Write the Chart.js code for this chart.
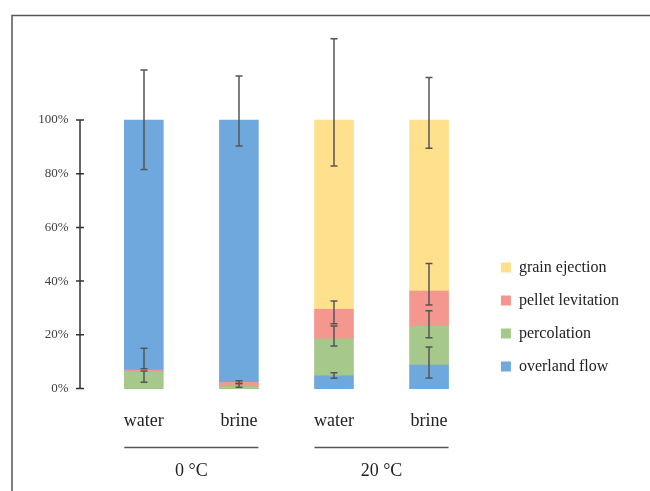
<!DOCTYPE html>
<html>
<head>
<meta charset="utf-8">
<script src="https://cdn.jsdelivr.net/npm/chart.js@4.4.0/dist/chart.umd.min.js"></script>
<style>
  html, body { margin: 0; padding: 0; background: #fff; }
  #wrap { width: 650px; height: 491px; }
</style>
</head>
<body>
<div id="wrap"><canvas id="chart" width="650" height="491"></canvas></div>
<script>
// ---------------------- DATA ------------------------
const categories = ["water", "brine", "water", "brine"];
const groups = ["0 °C", "20 °C"];
const yTicks = [0, 20, 40, 60, 80, 100];

// segment sizes (%), listed bottom to top of each bar
// overland flow sits at the bottom at 20 °C and on top at 0 °C
const overlandLower = [null, null, 4.7, 8.75];
const percolation = [6.15, 0.7, 13.8, 14.45];
const pellet = [0.75, 1.6, 11.0, 13.1];
const grain = [null, null, 70.5, 63.7];
const overlandUpper = [93.1, 97.7, null, null];

// error bar ends (cumulative %)
const overlandLow = [81.6, 90.3, 3.8, 3.9];
const overlandHigh = [118.6, 116.4, 5.9, 15.5];
const percolationLow = [2.3, 0.45, 15.8, 18.9];
const percolationHigh = [6.5, 1.9, 23.3, 29.0];
const pelletLow = [7.4, 1.9, 24.1, 31.1];
const pelletHigh = [15.0, 2.9, 32.6, 46.6];
const grainLow = [null, null, 82.9, 89.5];
const grainHigh = [null, null, 130.2, 115.8];

const errLow = [overlandLow, percolationLow, pelletLow, grainLow];
const errHigh = [overlandHigh, percolationHigh, pelletHigh, grainHigh];

Chart.defaults.font.family = "'Liberation Serif', 'Times New Roman', serif";
Chart.defaults.color = "#222";

const X_MIN = 0.329;
const X_MAX = 4.577;
const BAR_W = 39;
const COLORS = {
  overland: "#6fa8dc",
  percolation: "#a6c98b",
  pellet: "#f4978e",
  grain: "#ffe08c",
};

function toPoints(arr) {
  return arr.map((v, i) => ({ x: i + 1, y: v }));
}

function noPad(s) {
  s.paddingTop = 0;
  s.paddingBottom = 0;
  s.paddingLeft = 0;
  s.paddingRight = 0;
}

// ---------------------- PLUGINS ------------------------
const errorBars = {
  id: "errorBars",
  afterDatasetsDraw(chart) {
    const ctx = chart.ctx;
    const x = chart.scales.x;
    const y = chart.scales.y;
    ctx.save();
    ctx.strokeStyle = "#555";
    ctx.lineWidth = 1.5;
    errLow.forEach((lows, d) => {
      lows.forEach((lo, i) => {
        const hi = errHigh[d][i];
        if (lo == null || hi == null) return;
        const px = Math.round(x.getPixelForValue(i + 1));
        const y1 = y.getPixelForValue(lo);
        const y2 = y.getPixelForValue(hi);
        ctx.beginPath();
        ctx.moveTo(px, y1); ctx.lineTo(px, y2);
        ctx.moveTo(px - 3.5, y1); ctx.lineTo(px + 3.5, y1);
        ctx.moveTo(px - 3.5, y2); ctx.lineTo(px + 3.5, y2);
        ctx.stroke();
      });
    });
    ctx.restore();
  },
};

const decorations = {
  id: "decorations",
  afterDraw(chart) {
    const ctx = chart.ctx;
    const x = chart.scales.x;
    const y = chart.scales.y;
    const area = chart.chartArea;
    ctx.save();

    // outer frame (left + top)
    ctx.strokeStyle = "#555";
    ctx.lineWidth = 1.5;
    ctx.beginPath();
    ctx.moveTo(12, chart.height);
    ctx.lineTo(12, 15.5);
    ctx.lineTo(chart.width, 15.5);
    ctx.stroke();

    // y axis line with crossing ticks, 0..100 only
    const ax = area.left;
    ctx.strokeStyle = "#333";
    ctx.lineWidth = 1.5;
    ctx.beginPath();
    ctx.moveTo(ax, y.getPixelForValue(0));
    ctx.lineTo(ax, y.getPixelForValue(100));
    yTicks.forEach((t) => {
      const py = y.getPixelForValue(t);
      ctx.moveTo(ax - 4, py);
      ctx.lineTo(ax + 4, py);
    });
    ctx.stroke();

    // group lines under category labels
    const ly = chart.scales.x2.top + 11;
    ctx.strokeStyle = "#555";
    ctx.lineWidth = 1.5;
    ctx.beginPath();
    for (let g = 0; g < groups.length; g++) {
      const a = x.getPixelForValue(g * 2 + 1) - BAR_W / 2;
      const b = x.getPixelForValue(g * 2 + 2) + BAR_W / 2;
      ctx.moveTo(a, ly);
      ctx.lineTo(b, ly);
    }
    ctx.stroke();
    ctx.restore();
  },
};

// ---------------------- CHART ------------------------
const ctx = document.getElementById("chart").getContext("2d");
new Chart(ctx, {
  type: "bar",
  data: {
    datasets: [
      { label: "overland flow", data: toPoints(overlandLower), backgroundColor: COLORS.overland },
      { label: "percolation", data: toPoints(percolation), backgroundColor: COLORS.percolation },
      { label: "pellet levitation", data: toPoints(pellet), backgroundColor: COLORS.pellet },
      { label: "grain ejection", data: toPoints(grain), backgroundColor: COLORS.grain },
      { label: "overland flow (top)", data: toPoints(overlandUpper), backgroundColor: COLORS.overland },
    ],
  },
  options: {
    responsive: false,
    animation: false,
    datasets: { bar: { barThickness: BAR_W, borderWidth: 0 } },
    layout: { padding: { left: 30, right: 21.1, top: 12, bottom: 14.5 } },
    scales: {
      x: {
        type: "linear",
        stacked: true,
        offset: false,
        min: X_MIN,
        max: X_MAX,
        grid: { display: false, drawTicks: false, offset: false },
        border: { display: false },
        afterBuildTicks: (s) => { s.ticks = categories.map((c, i) => ({ value: i + 1 })); },
        ticks: {
          callback: (v, i) => categories[i],
          font: { size: 18 },
          color: "#222",
          padding: 19,
          autoSkip: false,
          maxRotation: 0,
        },
        afterFit: (s) => { s.height = 45; noPad(s); },
      },
      x2: {
        type: "linear",
        position: "bottom",
        offset: false,
        min: X_MIN,
        max: X_MAX,
        grid: { display: false, drawTicks: false, offset: false },
        border: { display: false },
        afterBuildTicks: (s) => { s.ticks = groups.map((g, i) => ({ value: i * 2 + 1.5 })); },
        ticks: {
          callback: (v, i) => groups[i],
          font: { size: 18 },
          color: "#222",
          padding: 24,
          autoSkip: false,
          maxRotation: 0,
        },
        afterFit: (s) => { s.height = 40; noPad(s); },
      },
      y: {
        stacked: true,
        min: -1.1,
        max: 140.2,
        grid: { display: false, drawTicks: false },
        border: { display: false },
        afterBuildTicks: (s) => { s.ticks = yTicks.map((v) => ({ value: v })); },
        ticks: {
          callback: (v) => v + "%",
          font: { size: 13 },
          color: "#404040",
          padding: 11.5,
        },
        afterFit: (s) => { s.width = 50; noPad(s); },
      },
    },
    plugins: {
      tooltip: { enabled: false },
      legend: {
        position: "right",
        align: "end",
        fullSize: false,
        reverse: true,
        labels: {
          boxWidth: 10,
          boxHeight: 10,
          padding: 17,
          font: { size: 16 },
          color: "#222",
          filter: (item) => item.datasetIndex !== 4,
        },
      },
    },
  },
  plugins: [errorBars, decorations],
});
</script>
</body>
</html>
